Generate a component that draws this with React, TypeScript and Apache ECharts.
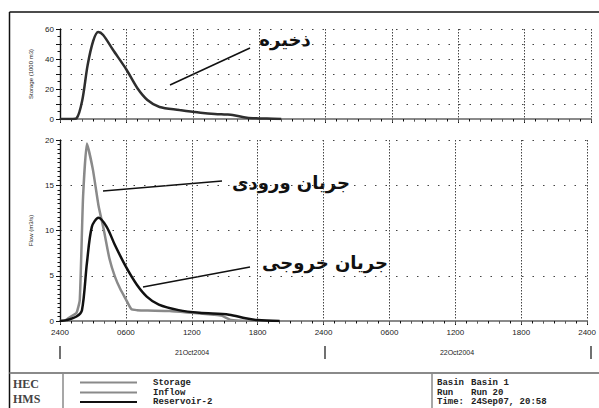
import React, { useEffect, useRef } from "react";
import * as echarts from "echarts";

const xTickHours = [0, 6, 12, 18, 24, 30, 36, 42, 48];
const dateLabels = ["21Oct2004", "22Oct2004"];

const storageHours = [0, 1, 1.5, 2, 2.5, 3, 3.45, 3.9, 4.8, 6, 7, 7.9, 9, 10.8, 12, 12.7, 14, 15, 15.6, 16.9, 18, 18.7, 20];
const storage = [0, 0, 0.5, 12, 36, 52, 58, 56, 46, 33, 20.5, 12.7, 8, 6, 4.8, 4.2, 3.4, 3.0, 2.7, 0.8, 0.4, 0.3, 0];

const inflowHours = [0, 0.5, 1, 1.5, 1.8, 2.1, 2.45, 3, 3.5, 4, 4.5, 5, 5.5, 6, 6.5, 7, 8, 10, 12, 13, 14, 14.7, 15.6, 17];
const inflow = [0, 0.1, 0.5, 0.9, 2.3, 13.7, 19.6, 16.7, 12.8, 10, 6.9, 4.9, 3.5, 2.4, 1.3, 1.2, 1.15, 1.1, 0.9, 0.8, 0.7, 0.6, 0.1, 0];

const outflowHours = [0, 0.6, 1.5, 2, 2.45, 2.9, 3.5, 4.25, 5, 6, 7, 7.9, 9, 10.8, 12.7, 15.4, 16.9, 18, 20];
const outflow = [0, 0.1, 0.5, 1.2, 6.4, 10.4, 11.4, 10.4, 8.4, 6, 4, 2.7, 1.8, 1.2, 0.9, 0.7, 0.3, 0.1, 0];

const legendNames = ["Storage", "Inflow", "Reservoir-2"];
const infoRows = [
  ["Basin", "Basin 1"],
  ["Run", "Run 20"],
  ["Time:", "24Sep07, 20:58"],
];

const pairs = (h: number[], v: number[]) => h.map((x, i) => [x, v[i]]);
const hourFmt = (v: number) => {
  const h = v % 24;
  return h === 0 ? "2400" : String(h).padStart(2, "0") + "00";
};

const GRAY = "#8a8a8a";
const DARK = "#2e2e2e";
const BLACK = "#111";
const tickFont = { fontSize: 8, color: "#222", fontFamily: "Liberation Sans" };

export default function App() {
  const ref = useRef<HTMLDivElement>(null);
  useEffect(() => {
    if (!ref.current) return;
    const chart = echarts.init(ref.current, null, { renderer: "svg" });
    const L = 60, W = 531;
    const g0 = { left: L, top: 29, width: W, height: 90 };
    const g1 = { left: L, top: 140, width: W, height: 181 };

    const bottomX = (gi: number, labels: boolean) => ({
      type: "value",
      gridIndex: gi,
      min: 0,
      max: 48,
      interval: 6,
      position: "bottom",
      axisLine: { lineStyle: { color: BLACK, width: 1.2 } },
      axisTick: { show: true, length: 4, lineStyle: { color: BLACK } },
      minorTick: { show: true, splitNumber: 6, length: 2.5, lineStyle: { color: BLACK } },
      axisLabel: labels
        ? { show: true, formatter: hourFmt, margin: 7, ...tickFont }
        : { show: false },
      splitLine: { show: true, lineStyle: { color: "#444", type: [1.5, 1.5], width: 1 } },
    });
    const topX = (gi: number) => ({
      type: "value",
      gridIndex: gi,
      min: 0,
      max: 48,
      interval: 6,
      position: "top",
      axisLine: { lineStyle: { color: GRAY, width: 2 } },
      axisTick: { show: true, inside: true, length: 3, lineStyle: { color: "#555" } },
      minorTick: { show: true, splitNumber: 3, length: 2, lineStyle: { color: "#555" } },
      axisLabel: { show: false },
      splitLine: { show: false },
    });
    const leftY = (gi: number, max: number, interval: number, labelEvery: number, name: string, minorSplit: number) => ({
      type: "value",
      gridIndex: gi,
      min: 0,
      max,
      interval,
      position: "left",
      name,
      nameLocation: "middle",
      nameGap: 22,
      nameTextStyle: { fontSize: 6, color: "#222", fontFamily: "Liberation Sans" },
      axisLine: { show: true, lineStyle: { color: BLACK, width: 1.2 } },
      axisTick: { show: true, length: 4, lineStyle: { color: BLACK } },
      minorTick: { show: true, splitNumber: minorSplit, length: 2.5, lineStyle: { color: BLACK } },
      axisLabel: {
        ...tickFont,
        margin: 6,
        formatter: (v: number) => (v % labelEvery === 0 ? String(v) : ""),
      },
      splitLine: { show: true, lineStyle: { color: "#444", type: [1.5, 9], width: 1.2 } },
    });
    const rightY = (gi: number, max: number, interval: number, minorSplit: number) => ({
      type: "value",
      gridIndex: gi,
      min: 0,
      max,
      interval,
      position: "right",
      axisLine: { show: true, lineStyle: { color: BLACK, width: 1.2 } },
      axisTick: { show: true, inside: true, length: 4, lineStyle: { color: BLACK } },
      minorTick: { show: true, splitNumber: minorSplit, length: 2, lineStyle: { color: BLACK } },
      axisLabel: { show: false },
      splitLine: { show: false },
    });

    const arabicFont = 'bold 18px "DejaVu Sans"';
    const txt = (text: string, x: number, y: number, font: string, align = "left", fill = "#111") => ({
      type: "text",
      x,
      y,
      silent: true,
      style: { text, font, fill, textAlign: align, textVerticalAlign: "middle", align, verticalAlign: "middle" },
    });
    const ln = (x1: number, y1: number, x2: number, y2: number, stroke: string, lineWidth: number) => ({
      type: "line",
      silent: true,
      shape: { x1, y1, x2, y2 },
      style: { stroke, lineWidth },
    });

    const monoFont = 'bold 9px "Liberation Mono"';
    const legendColors = [GRAY, GRAY, BLACK];
    const legendY = [382.5, 392.5, 402];

    const graphic: any[] = [
      ln(9.5, 12, 599, 12, "#111", 1.5),
      ln(9.5, 12, 9.5, 408, "#111", 1.5),
      ln(9.5, 373, 599, 373, GRAY, 2),
      ln(63, 373, 63, 408, GRAY, 1.5),
      ln(432, 373, 432, 408, GRAY, 1.5),
      // annotations
      ln(170, 85, 250, 48, "#111", 1.6),
      txt("ذخیره", 285, 39, arabicFont, "center"),
      ln(103, 191, 222, 181, "#111", 1.6),
      txt("جریان ورودی", 291, 182, arabicFont, "center"),
      ln(143, 287, 250, 267, "#111", 1.6),
      txt("جریان خروجی", 325, 262, arabicFont, "center"),
      // date row
      ln(60, 346, 60, 359, "#111", 1.2),
      ln(325, 346, 325, 359, "#111", 1.2),
      ln(591, 346, 591, 359, "#111", 1.2),
      txt(dateLabels[0], 192, 352, '7px "Liberation Sans"', "center", "#222"),
      txt(dateLabels[1], 457, 352, '7px "Liberation Sans"', "center", "#222"),
      // HEC HMS
      txt("HEC", 13, 384, 'bold 12px "Liberation Serif"', "left", "#444"),
      txt("HMS", 13, 399, 'bold 12px "Liberation Serif"', "left", "#444"),
    ];
    legendNames.forEach((n, i) => {
      graphic.push(ln(80, legendY[i], 137, legendY[i], legendColors[i], 2));
      graphic.push(txt(n, 153, legendY[i], monoFont, "left", "#222"));
    });
    infoRows.forEach((r, i) => {
      graphic.push(txt(r[0], 437, legendY[i], monoFont, "left", "#222"));
      graphic.push(txt(r[1], 471, legendY[i], monoFont, "left", "#222"));
    });

    const option: any = {
      animation: false,
      backgroundColor: "#fff",
      grid: [g0, g1],
      xAxis: [bottomX(0, false), topX(0), bottomX(1, true), topX(1)],
      yAxis: [
        leftY(0, 60, 10, 20, "Storage (1000 m3)", 2),
        rightY(0, 60, 10, 2),
        leftY(1, 20, 5, 5, "Flow (m3/s)", 10),
        rightY(1, 20, 5, 10),
      ],
      series: [
        {
          name: legendNames[0],
          type: "line",
          xAxisIndex: 0,
          yAxisIndex: 0,
          data: pairs(storageHours, storage),
          smooth: 0.3,
          showSymbol: false,
          lineStyle: { color: DARK, width: 2.5 },
        },
        {
          name: legendNames[1],
          type: "line",
          xAxisIndex: 2,
          yAxisIndex: 2,
          data: pairs(inflowHours, inflow),
          smooth: 0.15,
          showSymbol: false,
          lineStyle: { color: GRAY, width: 2.5 },
        },
        {
          name: legendNames[2],
          type: "line",
          xAxisIndex: 2,
          yAxisIndex: 2,
          data: pairs(outflowHours, outflow),
          smooth: 0.3,
          showSymbol: false,
          lineStyle: { color: BLACK, width: 2.5 },
        },
      ],
      graphic,
    };
    chart.setOption(option);
    return () => chart.dispose();
  }, []);
  return (
    <div
      ref={ref}
      style={{ position: "absolute", left: 0, top: 0, width: 599, height: 408, background: "#fff" }}
    />
  );
}
